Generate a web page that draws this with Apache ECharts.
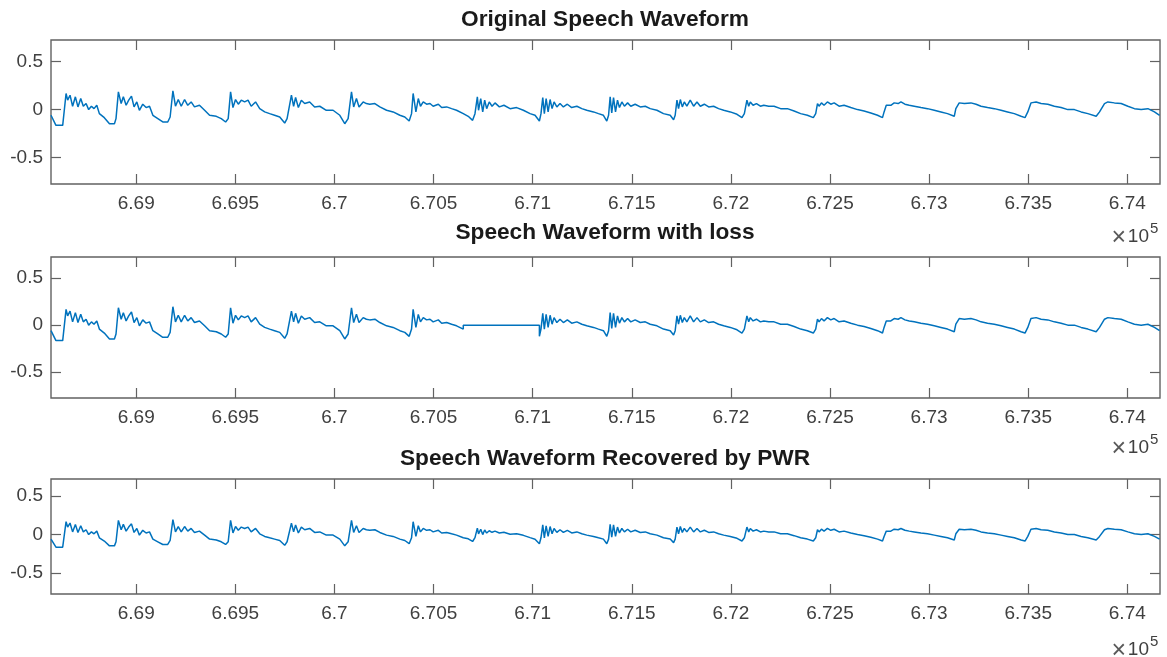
<!DOCTYPE html>
<html>
<head>
<meta charset="utf-8">
<script src="https://cdn.jsdelivr.net/npm/echarts@6/dist/echarts.min.js"></script>
<style>
  html, body { margin: 0; padding: 0; background: #ffffff; }
  #chart { width: 1167px; height: 657px; }
</style>
</head>
<body>
<div id="chart"></div>
<script>
// Sample numbers of the traced waveform vertices
const sampleIndex = [
  668570, 668595, 668629, 668636, 668646, 668654, 668666, 668679, 668693, 668706, 668720, 668733, 668747, 668760, 668774, 668787, 668801, 668814, 668839, 668865, 668890, 668898,
  668910, 668924, 668935, 668949, 668962, 668976, 668989, 669003, 669016, 669033, 669050, 669067, 669084, 669109, 669134, 669159, 669171,
  669185, 669198, 669212, 669227, 669244, 669260, 669277, 669294, 669319, 669345, 669370, 669404, 669429, 669451, 669464,
  669476, 669488, 669501, 669515, 669530, 669547, 669564, 669580, 669602, 669623, 669648, 669673, 669698, 669724, 669749, 669761,
  669783, 669794, 669804, 669818, 669833, 669850, 669875, 669900, 669926, 669959, 669993, 670027, 670052, 670069,
  670086, 670097, 670111, 670124, 670145, 670161, 670178, 670204, 670229, 670263, 670296, 670330, 670355, 670377, 670389,
  670397, 670411, 670423, 670434, 670448, 670465, 670482, 670498, 670524, 670541, 670566, 670591, 670616, 670650, 670675, 670697, 670709,
  670721, 670727, 670738, 670748, 670758, 670768, 670781, 670795, 670810, 670832, 670855, 670886, 670919, 670953, 670987, 671012, 671034, 671042,
  671051, 671059, 671068, 671078, 671088, 671098, 671108, 671122, 671138, 671155, 671175, 671197, 671223, 671248, 671273, 671307, 671332, 671357, 671374, 671383,
  671391, 671399, 671408, 671418, 671428, 671438, 671450, 671463, 671479, 671495, 671517, 671543, 671568, 671593, 671627, 671660, 671694, 671711, 671719,
  671728, 671736, 671745, 671755, 671765, 671778, 671795, 671812, 671829, 671846, 671866, 671888, 671913, 671938, 671964, 671997, 672031, 672056, 672068,
  672081, 672090, 672098, 672112, 672129, 672149, 672166, 672191, 672218, 672251, 672285, 672319, 672352, 672386, 672416, 672428,
  672437, 672445, 672457, 672470, 672487, 672504, 672521, 672546, 672571, 672605, 672639, 672672, 672706, 672740, 672765, 672773,
  672784, 672794, 672807, 672824, 672844, 672858, 672878, 672900, 672925, 672959, 672992, 673026, 673060, 673093, 673127, 673135,
  673152, 673178, 673211, 673237, 673262, 673295, 673329, 673363, 673396, 673430, 673464, 673484, 673498,
  673514, 673540, 673565, 673599, 673632, 673666, 673700, 673733, 673767, 673801, 673843, 673860,
  673885, 673902, 673935, 673969, 674003, 674036, 674070, 674104, 674137, 674163
];

// Amplitude of the original speech at each sample above
const originalWave = [
  -0.059, -0.164, -0.164, -0.147, 0.168, 0.098, 0.150, 0.035, 0.133, 0.028, 0.115, 0.035, 0.063, 0.000, 0.035, 0.010, 0.045, -0.042, -0.084, -0.147, -0.147, -0.094,
  0.185, 0.063, 0.133, 0.045, 0.098, 0.140, 0.028, 0.080, -0.007, 0.056, 0.021, 0.035, -0.059, -0.094, -0.129, -0.129, -0.077,
  0.196, 0.035, 0.105, 0.035, 0.105, 0.045, 0.080, 0.028, 0.045, -0.007, -0.059, -0.070, -0.094, -0.129, -0.094,
  0.185, 0.021, 0.105, 0.056, 0.098, 0.080, 0.098, 0.035, 0.080, 0.010, -0.024, -0.042, -0.059, -0.077, -0.140, -0.094,
  0.150, 0.035, 0.126, 0.021, 0.098, 0.063, 0.080, 0.028, 0.035, -0.007, -0.007, -0.059, -0.147, -0.094,
  0.185, 0.028, 0.115, 0.028, 0.080, 0.063, 0.056, 0.063, 0.028, -0.007, -0.024, -0.059, -0.077, -0.119, -0.042,
  0.168, -0.024, 0.115, 0.035, 0.080, 0.056, 0.063, 0.035, 0.056, 0.021, 0.028, 0.010, -0.007, -0.042, -0.070, -0.112, -0.042,
  0.133, -0.007, 0.115, -0.024, 0.098, 0.010, 0.080, 0.035, 0.070, 0.028, 0.045, 0.010, 0.021, -0.007, -0.042, -0.059, -0.119, -0.042,
  0.126, -0.042, 0.115, -0.024, 0.105, 0.010, 0.080, 0.028, 0.063, 0.028, 0.056, 0.021, 0.035, 0.010, -0.007, -0.024, -0.042, -0.059, -0.119, -0.059,
  0.133, -0.035, 0.126, -0.024, 0.098, 0.021, 0.080, 0.035, 0.070, 0.035, 0.056, 0.028, 0.035, 0.010, -0.007, -0.042, -0.059, -0.105, -0.059,
  0.098, 0.010, 0.105, 0.028, 0.080, 0.035, 0.098, 0.035, 0.080, 0.035, 0.056, 0.028, 0.035, 0.010, -0.007, -0.024, -0.049, -0.084, -0.042,
  0.098, 0.035, 0.080, 0.045, 0.063, 0.035, 0.045, 0.035, 0.035, 0.010, 0.010, -0.014, -0.042, -0.059, -0.084, -0.042,
  0.063, 0.035, 0.070, 0.045, 0.080, 0.056, 0.070, 0.035, 0.045, 0.021, 0.000, -0.014, -0.035, -0.059, -0.084, -0.024,
  0.045, 0.063, 0.045, 0.070, 0.063, 0.080, 0.056, 0.045, 0.035, 0.021, 0.010, -0.007, -0.024, -0.042, -0.070, 0.010,
  0.070, 0.063, 0.070, 0.056, 0.035, 0.021, 0.010, -0.007, -0.024, -0.042, -0.070, -0.084, -0.024,
  0.070, 0.080, 0.063, 0.056, 0.035, 0.021, 0.000, 0.000, -0.024, -0.042, -0.070, -0.024,
  0.063, 0.080, 0.070, 0.063, 0.035, 0.010, 0.000, 0.010, -0.024, -0.059
];

// First and last sample of the dropped packet (zeroed in the lossy signal)
const lossRange = [670650, 671034];

// Samples rebuilt inside the dropped packet
const recoveredGapIndex = [670675, 670697, 670709, 670721, 670727, 670738, 670748, 670758, 670768, 670781, 670795, 670810, 670832, 670855, 670886, 670919, 670953, 670987, 671012];
const recoveredGapWave  = [-0.055, -0.090, -0.040, 0.085, 0.010, 0.070, 0.000, 0.060, 0.020, 0.050, 0.030, 0.045, 0.020, 0.030, 0.005, 0.010, -0.010, -0.040, -0.060];

const xRange = [668570, 674165];
const yRange = [-0.775, 0.725];
const xTickValues = [669000, 669500, 670000, 670500, 671000, 671500, 672000, 672500, 673000, 673500, 674000];
const xTickLabels = ['6.69', '6.695', '6.7', '6.705', '6.71', '6.715', '6.72', '6.725', '6.73', '6.735', '6.74'];
const yTickValues = [-0.5, 0, 0.5];
const yTickLabels = ['-0.5', '0', '0.5'];
const panelTitles = ['Original Speech Waveform', 'Speech Waveform with loss', 'Speech Waveform Recovered by PWR'];
const exponentLabel = ['\u00d7', '10', '5'];

// ---- series construction ----
const originalData = sampleIndex.map((x, i) => [x, originalWave[i]]);

const lossData = [];
sampleIndex.forEach((x, i) => {
  const y = originalWave[i];
  if (x < lossRange[0] || x > lossRange[1]) lossData.push([x, y]);
  else if (x === lossRange[0]) { lossData.push([x, y]); lossData.push([x, 0]); }
  else if (x === lossRange[1]) { lossData.push([x, 0]); lossData.push([x, y]); }
});

const recoveredData = [];
sampleIndex.forEach((x, i) => {
  if (x <= lossRange[0] || x >= lossRange[1]) recoveredData.push([x, originalWave[i]]);
  if (x === lossRange[0]) {
    recoveredGapIndex.forEach((gx, j) => recoveredData.push([gx, recoveredGapWave[j]]));
  }
});

// ---- layout ----
const AXIS_COLOR = '#626262';
const TEXT_COLOR = '#404040';
const FONT = "'Liberation Sans', Arial, Helvetica, sans-serif";
const panels = [
  { top: 40, height: 144, titleY: 20, expY: 237 },
  { top: 257, height: 141, titleY: 233, expY: 448 },
  { top: 479, height: 115, titleY: 459, expY: 650 }
];
const seriesData = [originalData, lossData, recoveredData];

const tickStyle = { inside: true, length: 10, lineStyle: { color: AXIS_COLOR, width: 1.2 } };

const grid = [], xAxis = [], yAxis = [], series = [], graphic = [];
panels.forEach((p, i) => {
  grid.push({
    left: 51, right: 7, top: p.top, height: p.height,
    show: true, borderColor: AXIS_COLOR, borderWidth: 1.4, backgroundColor: 'transparent'
  });
  ['bottom', 'top'].forEach(pos => {
    xAxis.push({
      type: 'value', gridIndex: i, position: pos,
      min: xRange[0], max: xRange[1],
      axisLine: { show: false, onZero: false },
      splitLine: { show: false },
      axisTick: Object.assign({ customValues: xTickValues }, tickStyle),
      axisLabel: {
        show: pos === 'bottom', customValues: xTickValues,
        formatter: v => xTickLabels[xTickValues.indexOf(v)],
        fontFamily: FONT, fontSize: 19, color: TEXT_COLOR, margin: 10
      }
    });
  });
  ['left', 'right'].forEach(pos => {
    yAxis.push({
      type: 'value', gridIndex: i, position: pos,
      min: yRange[0], max: yRange[1],
      axisLine: { show: false, onZero: false },
      splitLine: { show: false },
      axisTick: Object.assign({ customValues: yTickValues }, tickStyle),
      axisLabel: {
        show: pos === 'left', customValues: yTickValues,
        formatter: v => yTickLabels[yTickValues.indexOf(v)],
        fontFamily: FONT, fontSize: 19, color: TEXT_COLOR, margin: 8
      }
    });
  });
  series.push({
    type: 'line', xAxisIndex: 2 * i, yAxisIndex: 2 * i,
    data: seriesData[i], showSymbol: false, symbol: 'none',
    lineStyle: { color: '#0072BD', width: 1.5 },
    silent: true, animation: false
  });
  graphic.push({
    type: 'text', x: 605, y: p.titleY,
    style: { text: panelTitles[i], font: 'bold 22.7px ' + FONT, fill: '#1a1a1a', textAlign: 'center', textVerticalAlign: 'middle' }
  });
  // "×10^5" exponent note under the right end of each x axis
  graphic.push({
    type: 'text', x: 1126, y: p.expY + 1,
    style: { text: exponentLabel[0], font: '25px ' + FONT, fill: '#5a5a5a', textAlign: 'right', textVerticalAlign: 'middle' }
  });
  graphic.push({
    type: 'text', x: 1149, y: p.expY,
    style: { text: exponentLabel[1], font: '19px ' + FONT, fill: TEXT_COLOR, textAlign: 'right', textVerticalAlign: 'middle' }
  });
  graphic.push({
    type: 'text', x: 1150, y: p.expY - 8,
    style: { text: exponentLabel[2], font: '15px ' + FONT, fill: TEXT_COLOR, textAlign: 'left', textVerticalAlign: 'middle' }
  });
});

const chart = echarts.init(document.getElementById('chart'), null, { renderer: 'canvas' });
chart.setOption({ animation: false, backgroundColor: '#ffffff', grid, xAxis, yAxis, series, graphic });
</script>
</body>
</html>
